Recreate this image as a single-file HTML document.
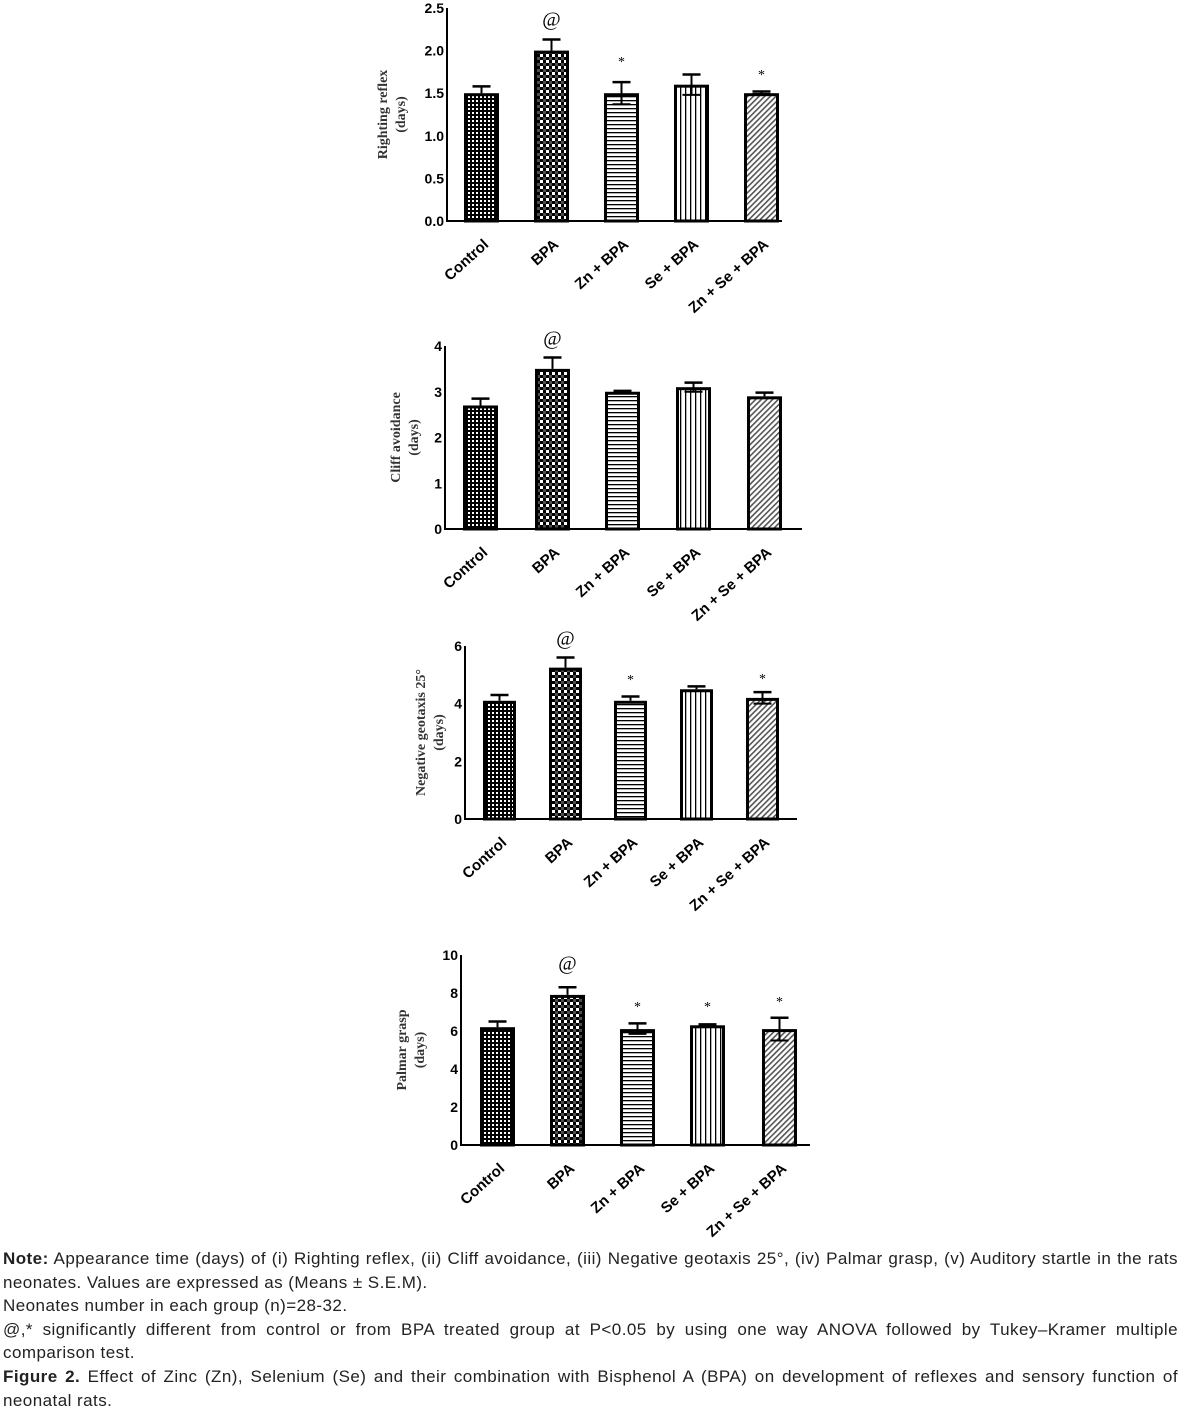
<!DOCTYPE html><html><head><meta charset="utf-8"><style>
body{margin:0;width:1184px;height:1414px;background:#fff;position:relative;overflow:hidden}
svg{position:absolute;left:0;top:0}
.note{position:absolute;left:3px;width:1175px;top:1247px;font-family:"Liberation Sans",sans-serif;font-size:17px;letter-spacing:0.45px;line-height:23.6px;color:#222;text-align:justify}
.note p{margin:0}
</style></head><body>
<svg id="s" width="1184" height="1240" xmlns="http://www.w3.org/2000/svg">
<defs>
<pattern id="p0" width="4" height="4" patternUnits="userSpaceOnUse"><rect width="4" height="4" fill="#000"/><rect x="0" y="0" width="2" height="2" fill="#fff"/></pattern>
<pattern id="p1" width="6" height="6" patternUnits="userSpaceOnUse"><rect width="6" height="6" fill="#000"/><rect x="0" y="0" width="3" height="3" fill="#fff"/><rect x="3" y="3" width="3" height="3" fill="#fff" opacity=".3"/></pattern>
<pattern id="p2" width="4" height="4" patternUnits="userSpaceOnUse"><rect width="4" height="4" fill="#fff"/><rect y="0" width="4" height="1.3" fill="#000"/></pattern>
<pattern id="p3" width="5" height="5" patternUnits="userSpaceOnUse"><rect width="5" height="5" fill="#fff"/><rect x="0" width="1.3" height="5" fill="#000"/></pattern>
<pattern id="p4" width="4" height="4" patternUnits="userSpaceOnUse" patternTransform="rotate(45)"><rect width="4" height="4" fill="#fff"/><rect width="1.6" height="4" fill="#555"/></pattern>
</defs>
</svg>
<div class="note">
<p><b>Note:</b> Appearance time (days) of (i) Righting reflex, (ii) Cliff avoidance, (iii) Negative geotaxis 25°, (iv) Palmar grasp, (v) Auditory startle in the rats neonates. Values are expressed as (Means ± S.E.M).</p>
<p>Neonates number in each group (n)=28-32.</p>
<p>@,* significantly different from control or from BPA treated group at P&lt;0.05 by using one way ANOVA followed by Tukey–Kramer multiple comparison test.</p>
<p><b>Figure 2.</b> Effect of Zinc (Zn), Selenium (Se) and their combination with Bisphenol A (BPA) on development of reflexes and sensory function of neonatal rats.</p>
</div>
<script>
var labels=["Control","BPA","Zn + BPA","Se + BPA","Zn + Se + BPA"];
var charts=[
{ax:447,y0:221,ytop:8,max:2.5,ticks:[0,0.5,1,1.5,2,2.5],fmt:1,xend:782,bars:[464,534,604,674,744],w:35,
 v:[1.5,2.0,1.5,1.6,1.5],eh:[1.58,2.13,1.63,1.72,1.52],el:[1.5,2.0,1.37,1.48,1.49],ann:["","@","*","","*"],annY:[0,12,57,0,70],t1:"Righting reflex",tx:387},
{ax:445,y0:529,ytop:346,max:4,ticks:[0,1,2,3,4],fmt:0,xend:802,bars:[463,535,605,676,747],w:35,
 v:[2.7,3.5,3.0,3.1,2.9],eh:[2.85,3.75,3.02,3.2,2.98],el:[2.7,3.5,3.0,3.0,2.9],ann:["","@","","",""],annY:[0,331,0,0,0],t1:"Cliff avoidance",tx:400},
{ax:465,y0:819,ytop:646,max:6,ticks:[0,2,4,6],fmt:0,xend:797,bars:[483,549,614,680,746],w:33,
 v:[4.1,5.25,4.1,4.5,4.2],eh:[4.3,5.6,4.25,4.6,4.4],el:[4.1,5.25,4.1,4.5,4.0],ann:["","@","*","","*"],annY:[0,631,675,0,674],t1:"Negative geotaxis 25°",tx:425},
{ax:461,y0:1145,ytop:955,max:10,ticks:[0,2,4,6,8,10],fmt:0,xend:810,bars:[480,550,620,690,762],w:35,
 v:[6.2,7.9,6.1,6.3,6.1],eh:[6.5,8.3,6.4,6.35,6.7],el:[6.2,7.9,5.85,6.3,5.5],ann:["","@","*","*","*"],annY:[0,956,1002,1002,997],t1:"Palmar grasp",tx:406}
];
var h="";
charts.forEach(function(c){
 var sc=(c.y0-c.ytop)/c.max;
 function Y(v){return c.y0-v*sc}
 c.bars.forEach(function(x,i){
  var top=Y(c.v[i]),cx=x+c.w/2;
  h+='<rect x="'+(x+1.5)+'" y="'+(top+1.5)+'" width="'+(c.w-3)+'" height="'+(c.y0-top-1.5)+'" fill="url(#p'+i+')" stroke="#000" stroke-width="3"/>';
  h+='<line x1="'+cx+'" x2="'+cx+'" y1="'+Y(c.eh[i])+'" y2="'+Y(c.el[i])+'" stroke="#000" stroke-width="2"/>';
  h+='<line x1="'+(cx-9)+'" x2="'+(cx+9)+'" y1="'+Y(c.eh[i])+'" y2="'+Y(c.eh[i])+'" stroke="#000" stroke-width="2.5"/>';
  if(c.el[i]<c.v[i]) h+='<line x1="'+(cx-9)+'" x2="'+(cx+9)+'" y1="'+Y(c.el[i])+'" y2="'+Y(c.el[i])+'" stroke="#000" stroke-width="2"/>';
  if(c.ann[i]=="@") h+='<text x="'+cx+'" y="'+c.annY[i]+'" font-family="Liberation Serif,serif" font-size="20" text-anchor="middle" dominant-baseline="hanging">@</text>';
  if(c.ann[i]=="*") h+='<text x="'+cx+'" y="'+c.annY[i]+'" font-family="Liberation Serif,serif" font-size="14" text-anchor="middle" dominant-baseline="hanging">*</text>';
  h+='<text transform="translate('+(cx+1)+','+(c.y0+17)+') rotate(-42)" font-family="Liberation Sans,sans-serif" font-weight="bold" font-size="15" text-anchor="end" dominant-baseline="hanging">'+labels[i]+'</text>';
 });
 h+='<line x1="'+c.ax+'" x2="'+c.ax+'" y1="'+c.ytop+'" y2="'+(c.y0+1)+'" stroke="#000" stroke-width="2"/>';
 h+='<line x1="'+(c.ax-1)+'" x2="'+c.xend+'" y1="'+c.y0+'" y2="'+c.y0+'" stroke="#000" stroke-width="2"/>';
 c.ticks.forEach(function(t){
  h+='<text x="'+(c.ax-3)+'" y="'+(Y(t)+5)+'" font-family="Liberation Sans,sans-serif" font-weight="bold" font-size="14" text-anchor="end">'+(c.fmt?t.toFixed(1):t)+'</text>';
 });
 var my=(c.y0+c.ytop)/2;
 h+='<text transform="translate('+c.tx+','+my+') rotate(-90)" font-family="Liberation Serif,serif" font-weight="bold" font-size="14" fill="#333" text-anchor="middle">'+c.t1+'</text>';
 h+='<text transform="translate('+(c.tx+18)+','+my+') rotate(-90)" font-family="Liberation Serif,serif" font-weight="bold" font-size="14" fill="#333" text-anchor="middle">(days)</text>';
});
document.getElementById("s").insertAdjacentHTML("beforeend",h);
</script>
</body></html>
